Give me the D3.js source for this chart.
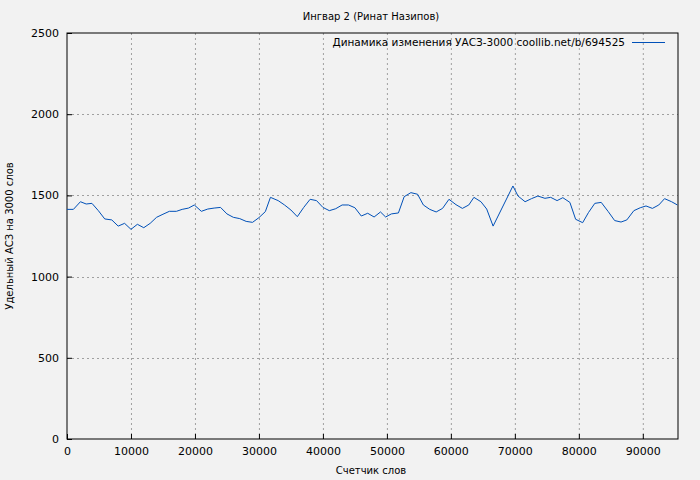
<!DOCTYPE html>
<html><head><meta charset="utf-8">
<script src="https://cdn.jsdelivr.net/npm/d3@7"></script>
<style>body{margin:0;background:#f2f2f2}svg{display:block}text{font-family:"DejaVu Sans",sans-serif;font-size:10px;fill:#000}</style>
</head><body><svg id="c" width="700" height="480"></svg>
<script>
const xs=[0,1000,2100,3000,3900,4900,5900,7000,8000,9000,10000,11000,12000,13000,14000,15000,16000,17100,18000,19000,19900,21000,22000,23000,24000,25000,26000,27000,28000,29000,30000,31000,31800,33000,34000,35000,36000,37000,38000,39000,40000,41000,42000,43000,44000,45000,46000,47000,48000,49000,49800,50700,51800,52700,53750,54800,55700,56700,57700,58700,59700,60800,61800,62800,63600,64700,65600,66600,69700,70500,71600,72600,73600,74700,75600,76600,77500,78600,79500,80600,81500,82500,83500,84600,85600,86600,87500,88600,89600,90500,91500,92500,93400,94500,95400];
const ys=[1414,1414,1461,1447,1451,1406,1355,1349,1311,1328,1291,1322,1301,1328,1365,1384,1402,1402,1414,1422,1441,1402,1416,1422,1426,1386,1365,1357,1340,1334,1363,1400,1488,1468,1441,1410,1369,1426,1476,1468,1426,1406,1418,1441,1441,1424,1373,1390,1367,1398,1367,1386,1392,1492,1517,1507,1441,1414,1398,1420,1476,1443,1420,1441,1488,1461,1416,1311,1558,1496,1461,1480,1496,1482,1488,1468,1486,1457,1353,1332,1394,1451,1457,1400,1345,1336,1349,1406,1424,1435,1420,1441,1480,1461,1441];
const xTicks=[0,10000,20000,30000,40000,50000,60000,70000,80000,90000];
const yTicks=[0,500,1000,1500,2000,2500];
const title="Ингвар 2 (Ринат Назипов)", legend="Динамика изменения УАСЗ-3000 coollib.net/b/694525";
const svg=d3.select("#c");
const L=67,R=678,T=33,B=439;
const x=d3.scaleLinear().domain([0,95500]).range([L,R]);
const y=d3.scaleLinear().domain([0,2500]).range([B,T]);
svg.append("rect").attr("width",700).attr("height",480).attr("fill","#f2f2f2");
const g=svg.append("g");
xTicks.slice(1).forEach(t=>g.append("line").attr("x1",x(t)+.5).attr("x2",x(t)+.5).attr("y1",T).attr("y2",B).attr("stroke","#a0a0a0").attr("stroke-dasharray","2,3"));
yTicks.slice(1,-1).forEach(t=>g.append("line").attr("y1",Math.round(y(t))+.5).attr("y2",Math.round(y(t))+.5).attr("x1",L).attr("x2",R).attr("stroke","#a0a0a0").attr("stroke-dasharray","2,3"));
const ax=svg.append("g").attr("transform",`translate(0,${B})`).call(d3.axisBottom(x).tickValues(xTicks).tickFormat(d3.format("d")).tickSize(-5).tickPadding(8));
const ay=svg.append("g").attr("transform",`translate(${L},0)`).call(d3.axisLeft(y).tickValues(yTicks).tickFormat(d3.format("d")).tickSize(-5).tickPadding(8));
[ax,ay].forEach(a=>{a.select(".domain").remove();a.selectAll("text").style("font-size","11px").style("font-family","DejaVu Sans");});
svg.append("rect").attr("x",L).attr("y",T).attr("width",R-L).attr("height",B-T).attr("fill","none").attr("stroke","#000");
svg.append("path").datum(xs.map((v,i)=>[v,ys[i]])).attr("fill","none").attr("stroke","#0050b8").attr("stroke-width",1)
 .attr("d",d3.line().x(d=>x(d[0])).y(d=>y(d[1])));
svg.append("text").attr("x",371).attr("y",20).attr("text-anchor","middle").text(title);
svg.append("text").attr("x",625).attr("y",46).attr("text-anchor","end").style("font-size","10.5px").text(legend);
svg.append("line").attr("x1",632).attr("x2",665).attr("y1",42.5).attr("y2",42.5).attr("stroke","#0050b8");
svg.append("text").attr("x",371).attr("y",474).attr("text-anchor","middle").text("Счетчик слов");
svg.append("text").attr("transform","translate(13,236) rotate(-90)").attr("text-anchor","middle").text("Удельный АСЗ на 3000 слов");
</script></body></html>
